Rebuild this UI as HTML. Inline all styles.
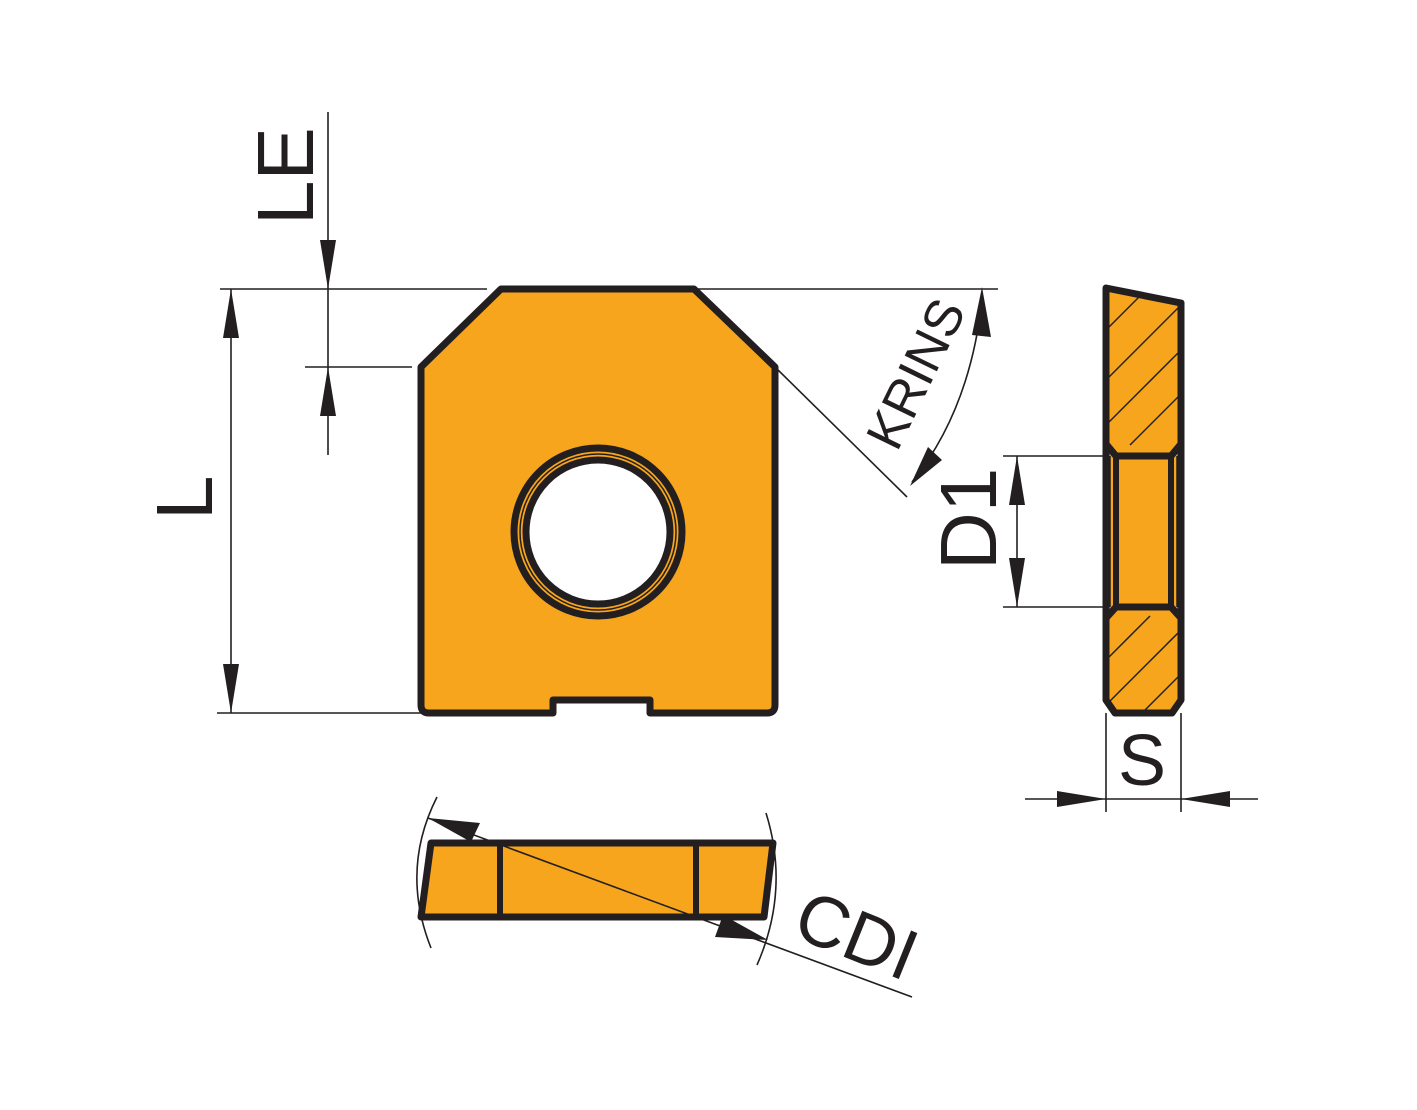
<!DOCTYPE html>
<html><head><style>body{margin:0;background:#fff}svg{display:block}</style></head><body>
<svg width="1417" height="1110" viewBox="0 0 1417 1110" xmlns="http://www.w3.org/2000/svg" font-family="Liberation Sans, sans-serif">
<defs><clipPath id="sc"><polygon points="1106,288 1181,303 1181,700 1172,713 1115,713 1106,700"/></clipPath></defs>
<g stroke="#231F20" stroke-width="1.6" fill="none">
<line x1="328" y1="112" x2="328" y2="455"/>
<line x1="220" y1="289" x2="487" y2="289"/>
<line x1="305" y1="367" x2="412" y2="367"/>
<line x1="231" y1="289" x2="231" y2="713"/>
<line x1="217" y1="713" x2="421" y2="713"/>
<line x1="694" y1="289" x2="998" y2="289"/>
<line x1="775" y1="367" x2="907" y2="497"/>
<path d="M982,300 Q970,410 912,482"/>
<line x1="1003" y1="456" x2="1106" y2="456"/>
<line x1="1003" y1="607" x2="1106" y2="607"/>
<line x1="1017" y1="456" x2="1017" y2="607"/>
<line x1="1106" y1="713" x2="1106" y2="812"/>
<line x1="1181" y1="713" x2="1181" y2="812"/>
<line x1="1025" y1="799" x2="1258" y2="799"/>
<path d="M437,797 Q400,870 431,948"/>
<path d="M766,813 Q790,890 757,965"/>
</g>
<g fill="#231F20">
<polygon points="328,289 320,240 336,240"/>
<polygon points="328,367 320,416 336,416"/>
<polygon points="231,289 223,338 239,338"/>
<polygon points="231,713 223,664 239,664"/>
<polygon points="982,287 972,335 991,337"/>
<polygon points="910,486 928,447 942,460"/>
<polygon points="1017,456 1009,505 1025,505"/>
<polygon points="1017,607 1009,558 1025,558"/>
<polygon points="1106,799 1057,791 1057,807"/>
<polygon points="1181,799 1230,791 1230,807"/>
</g>
<path d="M501,289 L694,289 L775,367 L775,705 Q775,713 767,713 L650,713 L650,700 L553,700 L553,713 L429,713 Q421,713 421,705 L421,367 Z" fill="#F7A51C" stroke="#231F20" stroke-width="7" stroke-linejoin="round"/>
<circle cx="598" cy="532" r="84" fill="#F7A51C" stroke="#231F20" stroke-width="7"/>
<circle cx="598" cy="532" r="78" fill="none" stroke="#231F20" stroke-width="1.5"/>
<circle cx="598" cy="532" r="72" fill="#fff" stroke="#231F20" stroke-width="7"/>
<polygon points="1106,288 1181,303 1181,700 1172,713 1115,713 1106,700" fill="#F7A51C"/>
<g clip-path="url(#sc)" stroke="#231F20" stroke-width="1.5">
<line x1="1106" y1="330" x2="1150" y2="286"/>
<line x1="1106" y1="380" x2="1190" y2="296"/>
<line x1="1106" y1="425" x2="1190" y2="341"/>
<line x1="1130" y1="445" x2="1190" y2="385"/>
<line x1="1106" y1="660" x2="1150" y2="616"/>
<line x1="1106" y1="705" x2="1195" y2="616"/>
<line x1="1130" y1="725" x2="1195" y2="660"/>
</g>
<g stroke="#231F20" stroke-width="7" fill="none" stroke-linejoin="round">
<polygon points="1106,288 1181,303 1181,700 1172,713 1115,713 1106,700"/>
<polyline points="1106,444 1116,456 1171,456 1181,444"/>
<polyline points="1106,618 1116,607 1171,607 1181,618"/>
<rect x="1116" y="456" width="55" height="151" stroke-width="6"/>
</g>
<g stroke="#231F20" stroke-width="1.5"><line x1="1110" y1="456" x2="1110" y2="607"/><line x1="1177" y1="456" x2="1177" y2="607"/></g>
<polygon points="431,843 773,843 764,917 421,917" fill="#F7A51C" stroke="#231F20" stroke-width="7" stroke-linejoin="round"/>
<g stroke="#231F20" stroke-width="6"><line x1="500" y1="843" x2="500" y2="917"/><line x1="696" y1="843" x2="696" y2="917"/></g>
<line x1="428" y1="818" x2="912" y2="997" stroke="#231F20" stroke-width="1.6"/>
<polygon points="428,818 480,823 471,842" fill="#231F20"/>
<polygon points="768,940 715,937 723,915" fill="#231F20"/>
<g fill="#231F20" font-size="80">
<text transform="translate(212,520) rotate(-90)">L</text>
<text transform="translate(313,225) rotate(-90)">LE</text>
<text transform="translate(996,570) rotate(-90)">D1</text>
<text x="1118" y="785" font-size="72">S</text>
<text transform="translate(897,453) rotate(-64)" font-size="52">KRINS</text>
<text transform="translate(790,935) rotate(22)" font-size="72">CDI</text>
</g>
</svg>
</body></html>
